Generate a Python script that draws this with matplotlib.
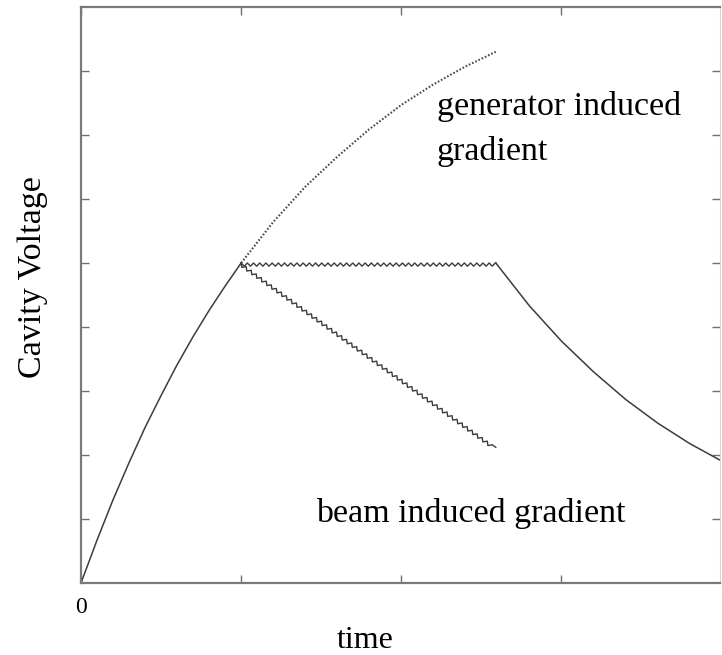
import matplotlib
matplotlib.use("Agg")
import numpy as np
import matplotlib.pyplot as plt
import matplotlib.patheffects as pe
from matplotlib.path import Path
from matplotlib.transforms import Affine2D

# values (time in tick units, voltage in tick units)
t_charge = [0, 0.1, 0.2, 0.3, 0.4, 0.5, 0.6, 0.7, 0.8, 0.9, 1.0]
v_charge = [0, 0.67, 1.30, 1.88, 2.43, 2.93, 3.41, 3.85, 4.26, 4.64, 5.0]

t_gen = [1.0, 1.2, 1.4, 1.6, 1.8, 2.0, 2.2, 2.4, 2.59]
v_gen = [5.0, 5.64, 6.19, 6.66, 7.09, 7.47, 7.79, 8.07, 8.3]

t_flat = [1.0, 2.59]
v_flat = [5.0, 5.0]

t_beam = [1.0, 2.59]
v_beam = [5.0, 2.12]

t_decay = [2.59, 2.8, 3.0, 3.2, 3.4, 3.6, 3.8, 3.99]
v_decay = [5.0, 4.33, 3.78, 3.30, 2.87, 2.50, 2.18, 1.92]

x_ticks = [0, 1, 2, 3]
x_ticklabels = ['0', '', '', '']
y_ticks = [1, 2, 3, 4, 5, 6, 7, 8]

serif = 'Liberation Serif'
line_col = '#3c3c3c'


class Zigzag(pe.AbstractPathEffect):
    # draws a straight segment as a small sawtooth (pulse ripple), in pixels
    def __init__(self, period=6.2, depth=3.2):
        super().__init__()
        self.period = period
        self.depth = depth

    def draw_path(self, renderer, gc, tpath, affine, rgbFace=None):
        verts = affine.transform(tpath.vertices)
        p0, p1 = verts[0], verts[-1]
        d = p1 - p0
        L = np.hypot(d[0], d[1])
        u = d / L
        n = np.array([u[1], -u[0]])
        k = int(L // self.period)
        pts = [p0]
        for i in range(k):
            pts.append(p0 + u * (i + 0.5) * self.period + n * self.depth)
            pts.append(p0 + u * (i + 1) * self.period)
        pts.append(p1)
        renderer.draw_path(gc, Path(np.array(pts)), Affine2D())


fig = plt.figure(figsize=(7.22, 6.55), dpi=100)
ax = fig.add_axes([81/722, 1-583/655, 639/722, 576/655])

ax.plot(t_charge, v_charge, color=line_col, lw=1.1)
ax.plot(t_gen, v_gen, color='#4a4a4a', lw=1.5, linestyle=(0, (0.8, 0.9)))
ax.plot(t_flat, v_flat, color=line_col, lw=1.0, path_effects=[Zigzag()])
ax.plot(t_beam, v_beam, color=line_col, lw=1.0, path_effects=[Zigzag()])
ax.plot(t_decay, v_decay, color=line_col, lw=1.1)

ax.text(2.22, 7.31, 'generator induced', family=serif, fontsize=24.5, va='baseline')
ax.text(2.22, 6.61, 'gradient', family=serif, fontsize=24.5, va='baseline')
ax.text(1.469, 0.953, 'beam induced gradient', family=serif, fontsize=24.5, va='baseline')

ax.set_xlim(0, 3.99)
ax.set_ylim(0, 9)
ax.set_xticks(x_ticks)
ax.set_xticklabels(x_ticklabels, family=serif, fontsize=17)
ax.set_yticks(y_ticks)
ax.set_yticklabels([])
ax.tick_params(direction='in', top=True, right=True, length=5.5, width=1.0,
               color='#707070', pad=10)

for s in ['left', 'bottom', 'top']:
    ax.spines[s].set_color('#7a7a7a')
    ax.spines[s].set_linewidth(1.6)
ax.spines['right'].set_color('#d8d8d8')
ax.spines['right'].set_linewidth(0.8)

fig.text(33/722, 1-277/655, 'Cavity Voltage', family=serif, fontsize=24.5,
         rotation=90, ha='center', va='center')
fig.text(365/722, 1-648/655, 'time', family=serif, fontsize=23, ha='center', va='baseline')

fig.savefig('out.png', dpi=100)
